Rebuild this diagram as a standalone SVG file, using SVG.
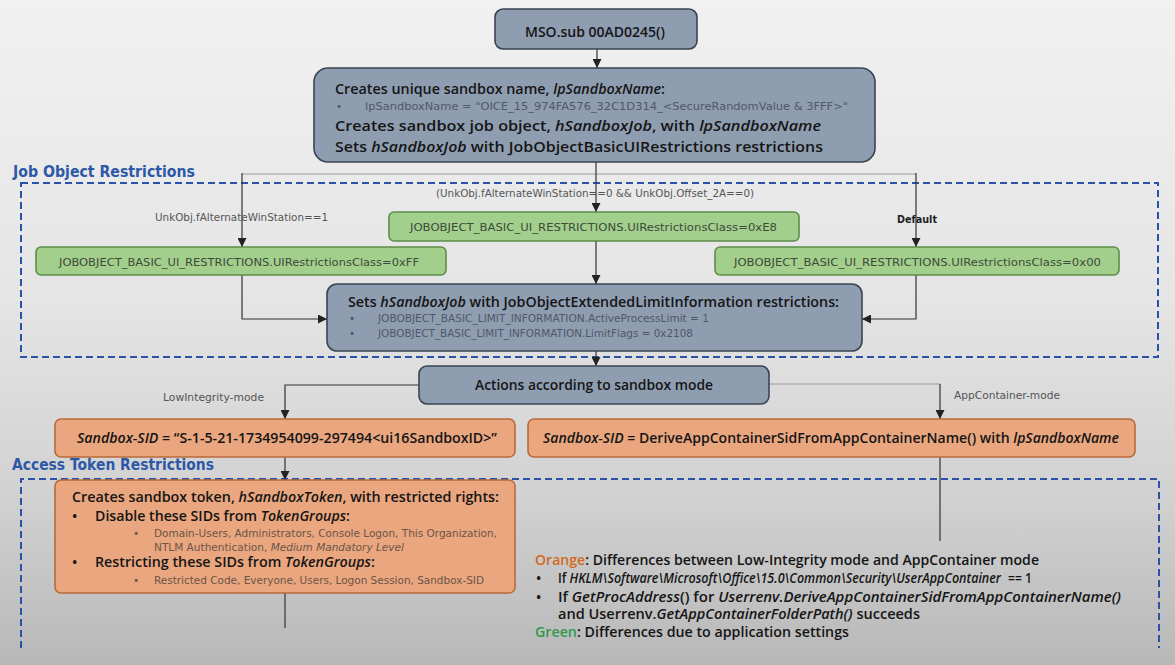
<svg xmlns="http://www.w3.org/2000/svg" width="1175" height="665" viewBox="0 0 1175 665">
<defs>
<linearGradient id="bg" x1="0" y1="0" x2="0" y2="1">
<stop offset="0" stop-color="#f1f1f1"/>
<stop offset="0.45" stop-color="#e5e5e5"/>
<stop offset="0.75" stop-color="#d1d1d1"/>
<stop offset="1" stop-color="#b8b8b8"/>
</linearGradient>
<marker id="arr" viewBox="0 0 10 10" refX="10" refY="5" markerWidth="9" markerHeight="9" markerUnits="userSpaceOnUse" orient="auto">
<path d="M0,0 L10,5 L0,10 z" fill="#222"/>
</marker>
<style>
text{font-family:"DejaVu Sans","Liberation Sans",sans-serif;}
.blue{fill:#8f9db1;stroke:#3a4454;stroke-width:1.6;}
.green{fill:#a3cf8d;stroke:#5d8d49;stroke-width:1.6;}
.orange{fill:#eaa67e;stroke:#b9693a;stroke-width:1.6;}
.t{font-family:"Open Sans","DejaVu Sans",sans-serif;font-weight:600;font-size:14.6px;fill:#151515;}
.tk{font-family:"Open Sans","DejaVu Sans",sans-serif;font-weight:600;font-size:14px;fill:#151515;}
.sm{font-size:10.5px;fill:#4f5867;}
.smo{font-size:10.5px;fill:#6a5548;}
.gt{font-size:11px;fill:#3e4a3a;}
.lab{font-size:10px;fill:#555;}
.sec{font-size:15px;font-weight:bold;fill:#2d58a8;}
.dash{fill:none;stroke:#2a52a6;stroke-width:2;stroke-dasharray:7,4;}
.c{fill:none;stroke:#333;stroke-width:1.2;}
.cl{fill:none;stroke:#9a9a9a;stroke-width:1.2;}
.i{font-style:italic;}
</style>
</defs>
<rect x="0" y="0" width="1175" height="665" fill="url(#bg)"/>

<g id="regions">
<rect class="dash" x="21" y="183" width="1137" height="174"/>
<text class="sec" x="13" y="177" textLength="182" lengthAdjust="spacingAndGlyphs">Job Object Restrictions</text>
<path class="dash" d="M21,648 V479 H1159 V648"/>
<text class="sec" x="12" y="470" textLength="202" lengthAdjust="spacingAndGlyphs">Access Token Restrictions</text>
</g>

<g id="connectors">
<path class="c" d="M597,49 V68" marker-end="url(#arr)"/>
<path class="cl" d="M242,174 H916"/>
<path class="c" d="M596,162 V212" marker-end="url(#arr)"/>
<path class="c" d="M242,173 V247" marker-end="url(#arr)"/>
<path class="c" d="M916,173 V247" marker-end="url(#arr)"/>
<path class="c" d="M242,275 V319 H327" marker-end="url(#arr)"/>
<path class="c" d="M596,241 V284" marker-end="url(#arr)"/>
<path class="c" d="M916,275 V319 H862" marker-end="url(#arr)"/>
<path class="c" d="M596,351 V366" marker-end="url(#arr)"/>
<path class="c" d="M419,385 H285 V419" marker-end="url(#arr)"/>
<path class="cl" d="M769,384 H940"/>
<path class="c" d="M940,384 V419" marker-end="url(#arr)"/>
<path class="c" d="M285,457 V480" marker-end="url(#arr)"/>
<path class="c" d="M940,457 V541"/>
<path class="c" d="M285,593 V628"/>
<text class="lab" x="436" y="197" textLength="318" lengthAdjust="spacingAndGlyphs">(UnkObj.fAlternateWinStation==0 &amp;&amp; UnkObj.Offset_2A==0)</text>
<text class="lab" x="155" y="221" textLength="173" lengthAdjust="spacingAndGlyphs">UnkObj.fAlternateWinStation==1</text>
<text x="897" y="223" style="font-size:11px;font-weight:bold;fill:#222" textLength="40" lengthAdjust="spacingAndGlyphs">Default</text>
<text class="lab" x="163" y="401" textLength="101" lengthAdjust="spacingAndGlyphs">LowIntegrity-mode</text>
<text class="lab" x="954" y="399" textLength="106" lengthAdjust="spacingAndGlyphs">AppContainer-mode</text>
</g>

<g id="n-entry">
<rect class="blue" x="495" y="9" width="202" height="40" rx="8"/>
<text class="t" x="525" y="37" textLength="140" lengthAdjust="spacingAndGlyphs">MSO.sub 00AD0245()</text>
</g>

<g id="n-create">
<rect class="blue" x="314" y="68" width="561" height="94" rx="14"/>
<text class="t" x="335" y="94" textLength="330" lengthAdjust="spacingAndGlyphs">Creates unique sandbox name, <tspan class="i">lpSandboxName</tspan>:</text>
<text class="sm" x="336" y="110">•</text>
<text class="sm" x="365" y="110" textLength="483" lengthAdjust="spacingAndGlyphs">lpSandboxName = "OICE_15_974FA576_32C1D314_&lt;SecureRandomValue &amp; 3FFF&gt;"</text>
<text class="t" x="335" y="131" textLength="486" lengthAdjust="spacingAndGlyphs">Creates sandbox job object, <tspan class="i">hSandboxJob</tspan>, with <tspan class="i">lpSandboxName</tspan></text>
<text class="t" x="335" y="152" textLength="488" lengthAdjust="spacingAndGlyphs">Sets <tspan class="i">hSandboxJob</tspan> with JobObjectBasicUIRestrictions restrictions</text>
</g>

<g id="n-ui-e8">
<rect class="green" x="389" y="212" width="410" height="29" rx="5"/>
<text class="gt" x="410" y="231" textLength="367" lengthAdjust="spacingAndGlyphs">JOBOBJECT_BASIC_UI_RESTRICTIONS.UIRestrictionsClass=0xE8</text>
</g>

<g id="n-ui-ff">
<rect class="green" x="36" y="247" width="410" height="28" rx="5"/>
<text class="gt" x="59" y="266" textLength="360" lengthAdjust="spacingAndGlyphs">JOBOBJECT_BASIC_UI_RESTRICTIONS.UIRestrictionsClass=0xFF</text>
</g>

<g id="n-ui-00">
<rect class="green" x="715" y="247" width="404" height="28" rx="5"/>
<text class="gt" x="734" y="266" textLength="367" lengthAdjust="spacingAndGlyphs">JOBOBJECT_BASIC_UI_RESTRICTIONS.UIRestrictionsClass=0x00</text>
</g>

<g id="n-extended">
<rect class="blue" x="327" y="284" width="535" height="67" rx="10"/>
<text class="t" x="348" y="307" textLength="491" lengthAdjust="spacingAndGlyphs">Sets <tspan class="i">hSandboxJob</tspan> with JobObjectExtendedLimitInformation restrictions:</text>
<text class="sm" x="349" y="322">•</text>
<text class="sm" x="378" y="322" textLength="331" lengthAdjust="spacingAndGlyphs">JOBOBJECT_BASIC_LIMIT_INFORMATION.ActiveProcessLimit = 1</text>
<text class="sm" x="349" y="337">•</text>
<text class="sm" x="378" y="337" textLength="315" lengthAdjust="spacingAndGlyphs">JOBOBJECT_BASIC_LIMIT_INFORMATION.LimitFlags = 0x2108</text>
</g>

<g id="n-actions">
<rect class="blue" x="419" y="366" width="350" height="38" rx="8"/>
<text class="t" x="475" y="390" textLength="238" lengthAdjust="spacingAndGlyphs">Actions according to sandbox mode</text>
</g>

<g id="n-sid-low">
<rect class="orange" x="55" y="419" width="460" height="38" rx="6"/>
<text class="tk" x="77" y="443" textLength="420" lengthAdjust="spacingAndGlyphs"><tspan class="i">Sandbox-SID</tspan> = “S-1-5-21-1734954099-297494&lt;ui16SandboxID&gt;”</text>
</g>

<g id="n-sid-app">
<rect class="orange" x="528" y="419" width="607" height="38" rx="6"/>
<text class="tk" x="543" y="443" textLength="576" lengthAdjust="spacingAndGlyphs"><tspan class="i">Sandbox-SID</tspan> = DeriveAppContainerSidFromAppContainerName() with <tspan class="i">lpSandboxName</tspan></text>
</g>

<g id="n-token">
<rect class="orange" x="55" y="480" width="460" height="113" rx="6"/>
<text class="tk" x="72" y="502" textLength="427" lengthAdjust="spacingAndGlyphs">Creates sandbox token, <tspan class="i">hSandboxToken</tspan>, with restricted rights:</text>
<text class="tk" x="72" y="521">•</text>
<text class="tk" x="95" y="521" textLength="255" lengthAdjust="spacingAndGlyphs">Disable these SIDs from <tspan class="i">TokenGroups</tspan>:</text>
<text class="smo" x="133" y="537">•</text>
<text class="smo" x="154" y="537" textLength="343" lengthAdjust="spacingAndGlyphs">Domain-Users, Administrators, Console Logon, This Organization,</text>
<text class="smo" x="154" y="551" textLength="250" lengthAdjust="spacingAndGlyphs">NTLM Authentication, <tspan class="i">Medium Mandatory Level</tspan></text>
<text class="tk" x="72" y="567">•</text>
<text class="tk" x="95" y="567" textLength="280" lengthAdjust="spacingAndGlyphs">Restricting these SIDs from <tspan class="i">TokenGroups</tspan>:</text>
<text class="smo" x="133" y="584">•</text>
<text class="smo" x="154" y="584" textLength="330" lengthAdjust="spacingAndGlyphs">Restricted Code, Everyone, Users, Logon Session, Sandbox-SID</text>
</g>

<g id="legend">
<text class="tk" x="535" y="565" textLength="504" lengthAdjust="spacingAndGlyphs"><tspan fill="#d2691e">Orange</tspan>: Differences between Low-Integrity mode and AppContainer mode</text>
<text class="tk" x="536" y="583">•</text>
<text class="tk" x="558" y="583" textLength="443" lengthAdjust="spacingAndGlyphs">If <tspan class="i">HKLM\Software\Microsoft\Office\15.0\Common\Security\UserAppContainer</tspan></text>
<text class="tk" x="1008" y="583" textLength="24" lengthAdjust="spacingAndGlyphs">== 1</text>
<text class="tk" x="536" y="602">•</text>
<text class="tk" x="558" y="602" textLength="563" lengthAdjust="spacingAndGlyphs">If <tspan class="i">GetProcAddress</tspan>() for <tspan class="i">Userrenv.DeriveAppContainerSidFromAppContainerName()</tspan></text>
<text class="tk" x="558" y="619" textLength="362" lengthAdjust="spacingAndGlyphs">and Userrenv.<tspan class="i">GetAppContainerFolderPath()</tspan> succeeds</text>
<text class="tk" x="535" y="637" textLength="314" lengthAdjust="spacingAndGlyphs"><tspan fill="#2e9a4a">Green</tspan>: Differences due to application settings</text>
</g>
</svg>
